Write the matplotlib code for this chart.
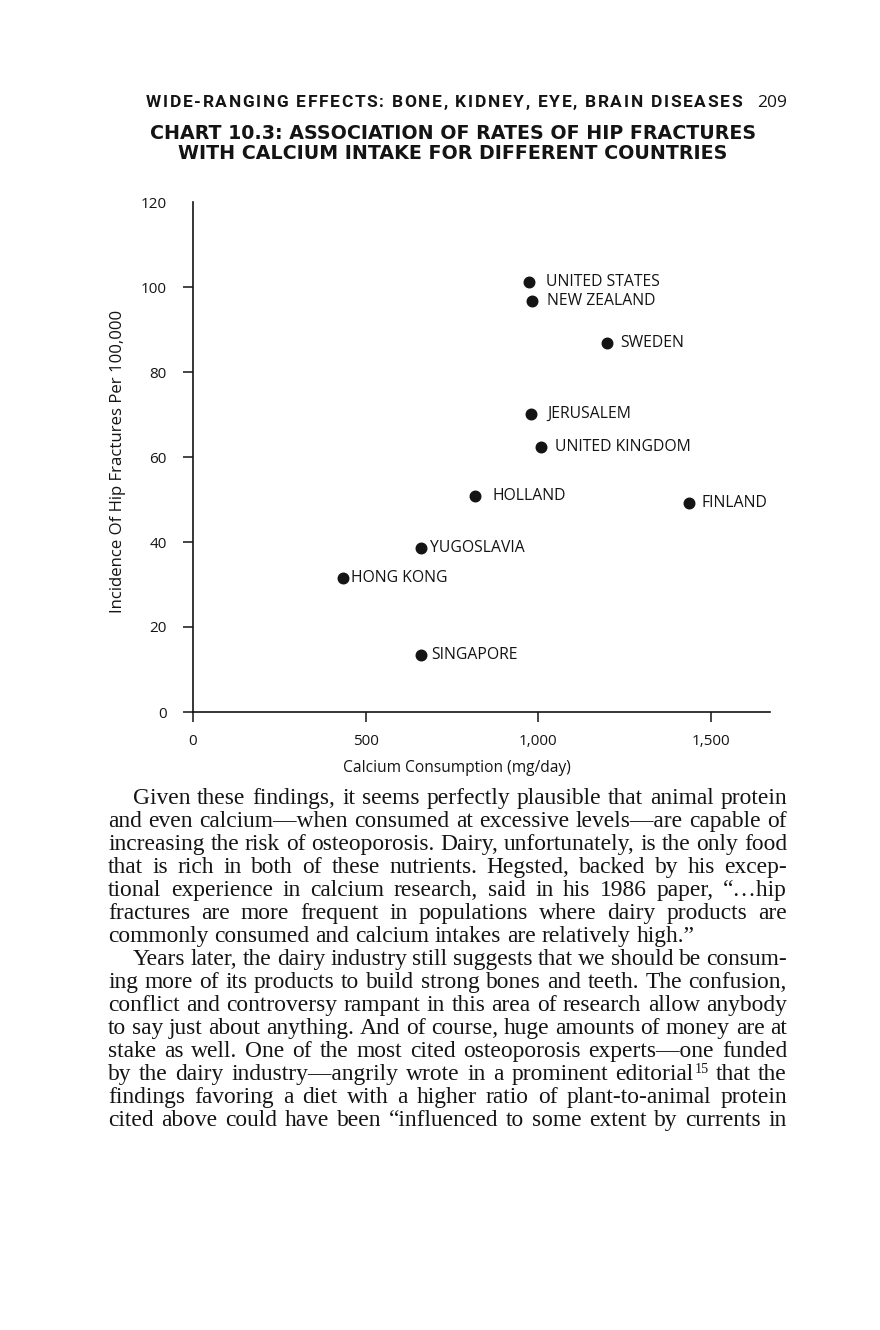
import matplotlib as mpl
mpl.use('Agg')
import matplotlib.pyplot as plt
from matplotlib.transforms import IdentityTransform
from matplotlib.ticker import FuncFormatter

W, H, DPI = 880, 1330, 100

# chart data
countries = ['UNITED STATES', 'NEW ZEALAND', 'SWEDEN', 'JERUSALEM', 'UNITED KINGDOM',
             'HOLLAND', 'FINLAND', 'YUGOSLAVIA', 'HONG KONG', 'SINGAPORE']
calcium = [973, 982, 1199, 979, 1008, 817, 1436, 660, 434, 660]          # mg/day
fractures = [101.2, 96.7, 86.8, 70.1, 62.4, 50.8, 49.2, 38.6, 31.5, 13.4]  # per 100,000
x_ticks = [0, 500, 1000, 1500]
y_ticks = [0, 20, 40, 60, 80, 100, 120]

# gap dot -> label, px
label_gap = [17, 15, 13, 16, 14, 17, 13, 9, 8, 10]

header = 'WIDE-RANGING EFFECTS: BONE, KIDNEY, EYE, BRAIN DISEASES'
page_no = '209'
title_lines = ['CHART 10.3: ASSOCIATION OF RATES OF HIP FRACTURES',
               'WITH CALCIUM INTAKE FOR DIFFERENT COUNTRIES']
x_label = 'Calcium Consumption (mg/day)'
y_label = 'Incidence Of Hip Fractures Per 100,000'

para1 = [
    'Given these findings, it seems perfectly plausible that animal protein',
    'and even calcium\u2014when consumed at excessive levels\u2014are capable of',
    'increasing the risk of osteoporosis. Dairy, unfortunately, is the only food',
    'that is rich in both of these nutrients. Hegsted, backed by his excep-',
    'tional experience in calcium research, said in his 1986 paper, \u201c\u2026hip',
    'fractures are more frequent in populations where dairy products are',
    'commonly consumed and calcium intakes are relatively high.\u201d',
]
para2 = [
    'Years later, the dairy industry still suggests that we should be consum-',
    'ing more of its products to build strong bones and teeth. The confusion,',
    'conflict and controversy rampant in this area of research allow anybody',
    'to say just about anything. And of course, huge amounts of money are at',
    'stake as well. One of the most cited osteoporosis experts\u2014one funded',
    'by the dairy industry\u2014angrily wrote in a prominent editorial^15 that the',
    'findings favoring a diet with a higher ratio of plant-to-animal protein',
    'cited above could have been \u201cinfluenced to some extent by currents in',
]

INK = '#141414'
fig = plt.figure(figsize=(W / DPI, H / DPI), dpi=DPI)
fig.patch.set_facecolor('white')
renderer = fig.canvas.get_renderer()
PX = IdentityTransform()


def put(x, ytop, s, **kw):
    kw.setdefault('color', INK)
    return fig.text(x, H - ytop, s, transform=PX, **kw)


def width(s, **kw):
    t = fig.text(0, 0, s, transform=PX, **kw)
    w = t.get_window_extent(renderer).width
    t.remove()
    return w


def fit(s, target, **kw):
    return 10 * target / width(s, fontsize=10, **kw)


def space_w(**kw):
    return width('a a', **kw) - width('aa', **kw)


sans = dict(family='Open Sans')

# ---- running head, letter-spaced
hd = dict(family='Roboto', fontweight='bold', fontsize=12.5)
chars = list(header)
cw = [space_w(**hd) if c == ' ' else width(c, **hd) for c in chars]
track = (742 - 146 - sum(cw)) / (len(chars) - 1)
x = 146
for c, w in zip(chars, cw):
    if c != ' ':
        put(x, 107, c, va='baseline', **hd)
    x += w + track
put(787, 107, page_no, ha='right', va='baseline', fontsize=12.5, **sans)

# ---- chart title
tt = dict(family='DejaVu Sans', fontweight='bold')
tsize = fit(title_lines[0], 757 - 150, **tt)
put(453, 139, title_lines[0], ha='center', va='baseline', fontsize=tsize, **tt)
put(453, 159, title_lines[1], ha='center', va='baseline', fontsize=tsize, **tt)

# ---- scatter
x0, x1, ytop, ybot = 193, 770, 202, 712
ax = fig.add_axes([x0 / W, (H - ybot) / H, (x1 - x0) / W, (ybot - ytop) / H])
ax.set_xlim(0, (x1 - x0) / 0.3453)
ax.set_ylim(0, 120)
ax.plot(calcium, fractures, 'o', color=INK, markersize=7.6, clip_on=False)
lsize = fit('UNITED STATES', 114, **sans)
for name, cx, cy, g in zip(countries, calcium, fractures, label_gap):
    ax.annotate(name, (cx, cy), xytext=(g * 0.72, 0), textcoords='offset points',
                va='center', ha='left', fontsize=lsize, color=INK, **sans)

for s in ['top', 'right']:
    ax.spines[s].set_visible(False)
for s in ['left', 'bottom']:
    ax.spines[s].set_linewidth(1.2)
    ax.spines[s].set_color(INK)
ax.set_xticks(x_ticks)
ax.set_yticks(y_ticks)
ax.xaxis.set_major_formatter(FuncFormatter(lambda v, p: f'{int(v):,}'))
ax.tick_params(axis='both', direction='out', length=7, width=1.1, colors=INK,
               labelsize=fit('1,000', 39, **sans))
ax.tick_params(axis='y', pad=12)
ax.tick_params(axis='x', pad=9)
for lab in ax.get_xticklabels() + ax.get_yticklabels():
    lab.set_family('Open Sans')
ax.yaxis.get_major_ticks()[-1].tick1line.set_visible(False)

put(457, 768, x_label, ha='center', va='center', fontsize=fit(x_label, 228, **sans), **sans)
put(118, 461, y_label, ha='center', va='center', rotation=90,
    fontsize=fit(y_label, 303, **sans), **sans)

# ---- body text, justified
serif = dict(family='Liberation Serif')
LEFT, RIGHT, INDENT, LEAD = 108, 787, 25, 23
# size so that the tightest line just fits with plain spaces
bsize = fit(para1[2], RIGHT - LEFT, **serif)


def word_w(wd):
    if '^' in wd:
        base, sup = wd.split('^')
        return width(base, fontsize=bsize, **serif) + width(sup, fontsize=bsize * 0.6, **serif)
    return width(wd, fontsize=bsize, **serif)


def draw_word(x, yb, wd):
    if '^' in wd:
        base, sup = wd.split('^')
        put(x, yb, base, va='baseline', fontsize=bsize, **serif)
        bw = width(base, fontsize=bsize, **serif)
        put(x + bw + 1, yb - 7, sup, va='baseline', fontsize=bsize * 0.6, **serif)
    else:
        put(x, yb, wd, va='baseline', fontsize=bsize, **serif)


def draw_para(lines, y_first, last_ragged):
    for i, line in enumerate(lines):
        yb = y_first + i * LEAD
        start = LEFT + (INDENT if i == 0 else 0)
        words = line.split(' ')
        ws = [word_w(w) for w in words]
        if last_ragged and i == len(lines) - 1:
            gap = space_w(fontsize=bsize, **serif)
        else:
            gap = (RIGHT - start - sum(ws)) / (len(words) - 1)
        x = start
        for w, wd in zip(ws, words):
            draw_word(x, yb, wd)
            x += w + gap


draw_para(para1, 804, True)
draw_para(para2, 804 + 7 * LEAD, False)

fig.savefig('out.png', dpi=DPI)
